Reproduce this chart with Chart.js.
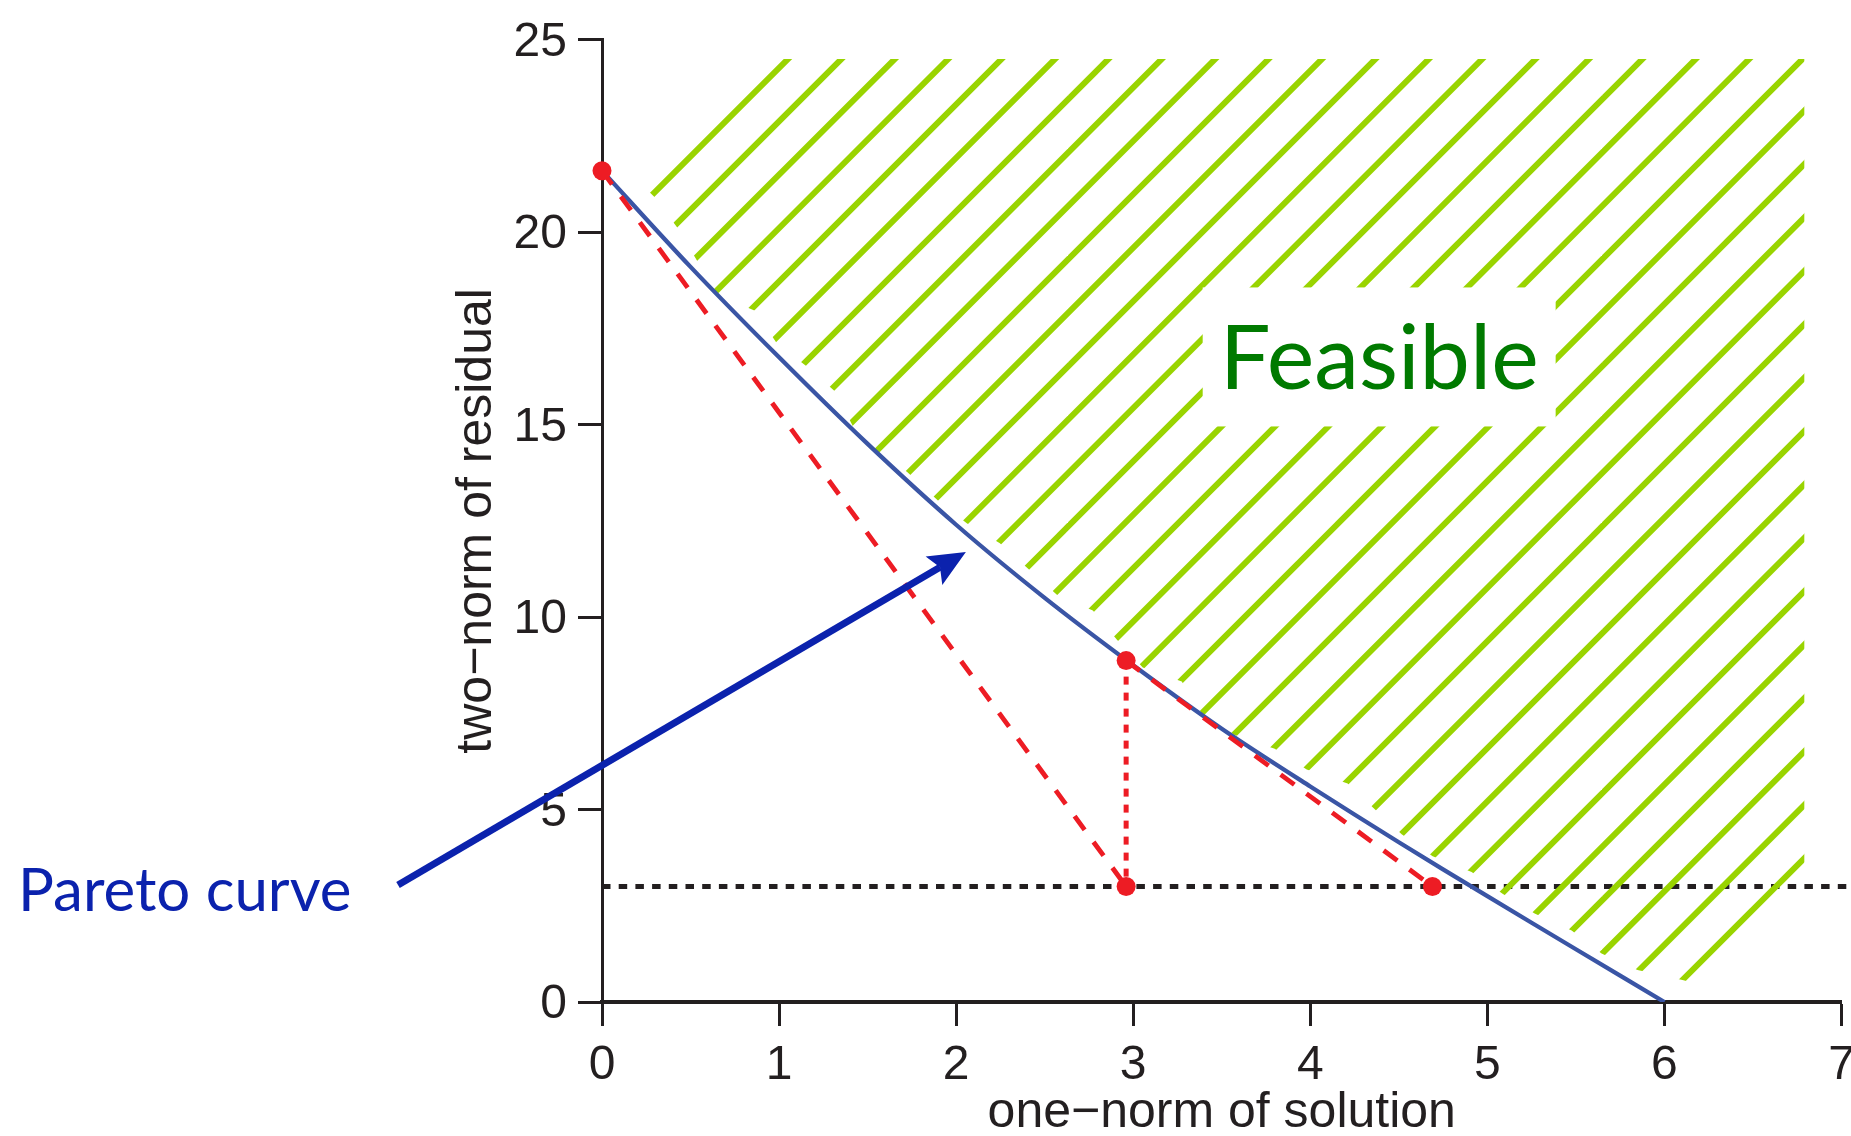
<!DOCTYPE html>
<html>
<head>
<meta charset="utf-8">
<title>Pareto curve</title>
<script src="https://cdn.jsdelivr.net/npm/chart.js@4.4.1/dist/chart.umd.min.js"></script>
<style>
  html, body { margin: 0; padding: 0; background: #fff; }
  canvas { display: block; }
</style>
</head>
<body>
<canvas id="pareto" width="1851" height="1136"></canvas>
<script>
// Pareto curve (two-norm of residual vs one-norm of solution)
const curveX = [0, 0.5, 1, 1.5, 2, 2.5, 3, 3.5, 4, 4.5, 5, 5.5, 6];
const curveY = [21.6, 19.1, 16.75, 14.5, 12.4, 10.5, 8.75, 7.1, 5.6, 4.15, 2.75, 1.37, 0];

// red iterates
const iterX = [0, 2.96, 2.96, 4.69];
const iterY = [21.6, 8.87, 3.0, 3.0];

// residual tolerance (black dotted)
const sigmaX = [0, 7.06];
const sigmaY = [3, 3];

// feasible (hatched) region outline
const hatchX = [0.929, 6.79, 6.79, 6.21, 6.102, 5.848, 5.645, 5.476, 5.267, 5.086, 4.911, 4.691, 4.516, 4.364,
  4.211, 3.98, 3.799, 3.573, 3.393, 3.274, 3.054, 2.907, 2.772, 2.569, 2.416, 2.247, 2.06, 1.897,
  1.722, 1.558, 1.417, 1.315, 1.157, 0.988, 0.864, 0.655, 0.542, 0.429, 0.299, 0.22];
const hatchY = [24.5, 24.5, 3.1, 0.44, 0.57, 0.83, 1.26, 1.86, 2.30, 2.81, 3.38, 3.79, 4.36, 5.01,
  5.68, 6.04, 6.58, 6.94, 7.46, 8.33, 8.69, 9.42, 10.17, 10.58, 11.22, 11.92, 12.44, 13.03,
  13.78, 14.24, 14.96, 15.87, 16.51, 17.11, 17.96, 18.37, 19.22, 20.10, 20.90, 21.26];

// x ticks / y ticks
const xTicks = [0, 1, 2, 3, 4, 5, 6, 7];
const yTicks = [0, 5, 10, 15, 20, 25];

// annotations (data coordinates)
const arrowFrom = [-1.152, 3.04];
const arrowTo = [2.055, 11.69];
const paretoLabelAt = [-3.298, 2.37];
const feasibleLabelAt = [4.389, 16.76];

const axisColor = '#231f20';
const pts = (xs, ys) => xs.map((x, i) => ({ x: x, y: ys[i] }));

function makeHatch() {
    const period = 53.4;
    const size = Math.round(period * 10);
    const c = document.createElement('canvas');
    c.width = size;
    c.height = size;
    const g = c.getContext('2d');
    g.strokeStyle = '#99d400';
    g.lineWidth = 6;
    for (let k = -2; k <= 22; k++) {
        const s = 46 + k * period; // line x + y = s
        g.beginPath();
        g.moveTo(s + 30, -30);
        g.lineTo(s - size - 30, size + 30);
        g.stroke();
    }
    return g.createPattern(c, 'repeat');
}

const annotate = {
    id: 'annotate',
    afterDatasetsDraw(chart) {
        const { ctx } = chart;
        const sx = chart.scales.x, sy = chart.scales.y;

        // Feasible label on a white box
        ctx.save();
        ctx.font = '90px Lato';
        const fx = sx.getPixelForValue(feasibleLabelAt[0]);
        const fy = sy.getPixelForValue(feasibleLabelAt[1]);
        const m = ctx.measureText('Feasible');
        const cap = ctx.measureText('F').actualBoundingBoxAscent;
        const bw = m.width + 34, bh = 139;
        ctx.fillStyle = '#ffffff';
        ctx.fillRect(fx - bw / 2, fy - bh / 2, bw, bh);
        ctx.fillStyle = '#007a00';
        ctx.textAlign = 'center';
        ctx.textBaseline = 'alphabetic';
        ctx.fillText('Feasible', fx, fy + cap / 2);
        ctx.restore();

        // arrow pointing at the curve (barbed head)
        const x0 = sx.getPixelForValue(arrowFrom[0]), y0 = sy.getPixelForValue(arrowFrom[1]);
        const x1 = sx.getPixelForValue(arrowTo[0]), y1 = sy.getPixelForValue(arrowTo[1]);
        const ux = (x1 - x0), uy = (y1 - y0);
        const len = Math.hypot(ux, uy);
        const dx = ux / len, dy = uy / len;
        const headLen = 37, notch = 30, headHalf = 16.5;
        const bx = x1 - headLen * dx, by = y1 - headLen * dy;
        const nx = x1 - notch * dx, ny = y1 - notch * dy;
        ctx.save();
        ctx.strokeStyle = '#0b22ad';
        ctx.fillStyle = '#0b22ad';
        ctx.lineWidth = 7;
        ctx.beginPath();
        ctx.moveTo(x0, y0);
        ctx.lineTo(nx, ny);
        ctx.stroke();
        ctx.beginPath();
        ctx.moveTo(x1, y1);
        ctx.lineTo(bx - headHalf * dy, by + headHalf * dx);
        ctx.lineTo(nx, ny);
        ctx.lineTo(bx + headHalf * dy, by - headHalf * dx);
        ctx.closePath();
        ctx.fill();

        ctx.font = '60px Lato';
        ctx.textAlign = 'left';
        ctx.textBaseline = 'alphabetic';
        ctx.fillText('Pareto curve', sx.getPixelForValue(paretoLabelAt[0]), sy.getPixelForValue(paretoLabelAt[1]));
        ctx.restore();
    }
};

new Chart(document.getElementById('pareto'), {
    type: 'line',
    data: {
        datasets: [
            {
                label: 'iterates',
                data: pts(iterX, iterY),
                showLine: false,
                pointRadius: 9.5,
                pointHoverRadius: 9.5,
                pointBackgroundColor: '#ed1c24',
                pointBorderColor: '#ed1c24',
                pointBorderWidth: 0,
                clip: false,
                order: 1
            },
            {
                label: 'step 1',
                data: [{ x: iterX[0], y: iterY[0] }, { x: iterX[2], y: iterY[2] }],
                borderColor: '#ed1c24',
                borderWidth: 4.8,
                borderDash: [17, 15],
                pointRadius: 0,
                order: 2
            },
            {
                label: 'step 2',
                data: [{ x: iterX[1], y: iterY[1] }, { x: iterX[3], y: iterY[3] }],
                borderColor: '#ed1c24',
                borderWidth: 4.8,
                borderDash: [17, 15],
                pointRadius: 0,
                order: 2
            },
            {
                label: 'vertical',
                data: [{ x: iterX[1], y: iterY[1] }, { x: iterX[2], y: iterY[2] }],
                borderColor: '#ed1c24',
                borderWidth: 5,
                borderDash: [8, 8],
                pointRadius: 0,
                order: 2
            },
            {
                label: 'Pareto curve',
                data: pts(curveX, curveY),
                borderColor: '#3a55a5',
                borderWidth: 4.3,
                tension: 0.3,
                pointRadius: 0,
                order: 4
            },
            {
                label: 'feasible',
                data: pts(hatchX, hatchY),
                fill: 'shape',
                backgroundColor: makeHatch(),
                borderColor: 'rgba(0,0,0,0)',
                borderWidth: 0,
                pointRadius: 0,
                tension: 0,
                order: 6
            },
            {
                label: 'sigma',
                data: pts(sigmaX, sigmaY),
                borderColor: axisColor,
                borderWidth: 5,
                borderDash: [8.5, 8.2],
                pointRadius: 0,
                clip: false,
                order: 8
            }
        ]
    },
    options: {
        responsive: false,
        animation: false,
        devicePixelRatio: 1,
        layout: { padding: { left: 440, top: 33, right: 9, bottom: 0 } },
        plugins: {
            legend: { display: false },
            tooltip: { enabled: false }
        },
        scales: {
            x: {
                type: 'linear',
                min: 0,
                max: 7,
                afterBuildTicks: (scale) => { scale.ticks = xTicks.map(v => ({ value: v })); },
                afterFit: (scale) => {
                    scale.height = 134;
                    scale.paddingLeft = 0;
                    scale.paddingRight = 0;
                },
                border: { display: true, color: axisColor, width: 4 },
                grid: {
                    drawOnChartArea: false,
                    drawTicks: true,
                    tickLength: 24,
                    tickWidth: 3,
                    tickColor: axisColor
                },
                ticks: {
                    color: axisColor,
                    padding: 11,
                    maxRotation: 0,
                    autoSkip: false,
                    font: { family: 'Liberation Sans', size: 48 }
                },
                title: {
                    display: true,
                    text: 'one\u2212norm of solution',
                    color: axisColor,
                    padding: { top: 0, bottom: 0 },
                    font: { family: 'Liberation Sans', size: 50, lineHeight: 0.9 }
                }
            },
            y: {
                min: 0,
                max: 25,
                afterBuildTicks: (scale) => { scale.ticks = yTicks.map(v => ({ value: v })); },
                afterFit: (scale) => { scale.width = 162; },
                border: { display: true, color: axisColor, width: 3 },
                grid: {
                    drawOnChartArea: false,
                    drawTicks: true,
                    tickLength: 24,
                    tickWidth: 3,
                    tickColor: axisColor
                },
                ticks: {
                    color: axisColor,
                    padding: 11,
                    labelOffset: 3,
                    autoSkip: false,
                    font: { family: 'Liberation Sans', size: 48 }
                },
                title: {
                    display: true,
                    text: 'two\u2212norm of residual',
                    color: axisColor,
                    padding: { top: 7, bottom: 0 },
                    font: { family: 'Liberation Sans', size: 50 }
                }
            }
        }
    },
    plugins: [annotate]
});
</script>
</body>
</html>
